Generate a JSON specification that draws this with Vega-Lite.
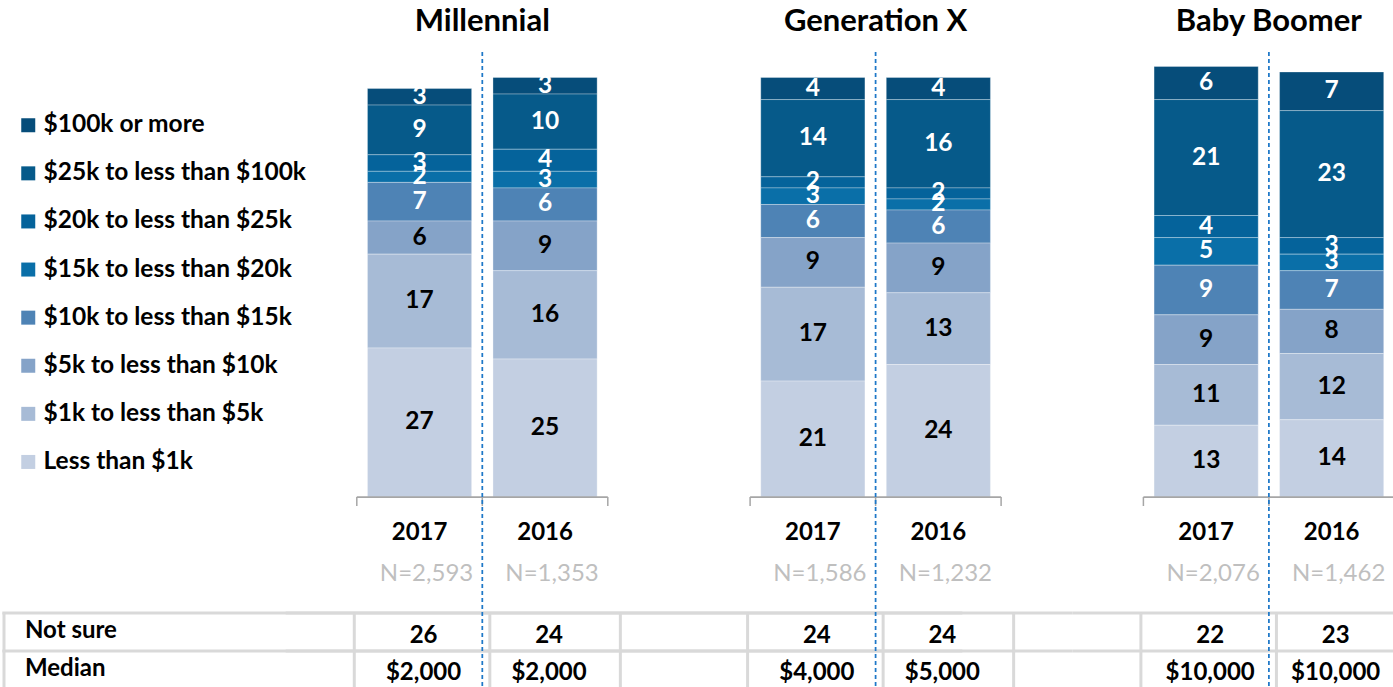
{
  "$schema": "https://vega.github.io/schema/vega-lite/v6.json",
  "width": 1393,
  "height": 687,
  "autosize": {"type": "none"},
  "padding": 0,
  "background": "white",
  "config": {"view": {"stroke": null}, "font": "Lato", "text": {"font": "Lato"}},
  "datasets": {
    "bars": [
      {"gen": "Millennial", "year": "2017", "k": 8, "bracket": "$100k or more", "pct": 3},
      {"gen": "Millennial", "year": "2017", "k": 7, "bracket": "$25k to less than $100k", "pct": 9},
      {"gen": "Millennial", "year": "2017", "k": 6, "bracket": "$20k to less than $25k", "pct": 3},
      {"gen": "Millennial", "year": "2017", "k": 5, "bracket": "$15k to less than $20k", "pct": 2},
      {"gen": "Millennial", "year": "2017", "k": 4, "bracket": "$10k to less than $15k", "pct": 7},
      {"gen": "Millennial", "year": "2017", "k": 3, "bracket": "$5k to less than $10k", "pct": 6},
      {"gen": "Millennial", "year": "2017", "k": 2, "bracket": "$1k to less than $5k", "pct": 17},
      {"gen": "Millennial", "year": "2017", "k": 1, "bracket": "Less than $1k", "pct": 27},
      {"gen": "Millennial", "year": "2016", "k": 8, "bracket": "$100k or more", "pct": 3},
      {"gen": "Millennial", "year": "2016", "k": 7, "bracket": "$25k to less than $100k", "pct": 10},
      {"gen": "Millennial", "year": "2016", "k": 6, "bracket": "$20k to less than $25k", "pct": 4},
      {"gen": "Millennial", "year": "2016", "k": 5, "bracket": "$15k to less than $20k", "pct": 3},
      {"gen": "Millennial", "year": "2016", "k": 4, "bracket": "$10k to less than $15k", "pct": 6},
      {"gen": "Millennial", "year": "2016", "k": 3, "bracket": "$5k to less than $10k", "pct": 9},
      {"gen": "Millennial", "year": "2016", "k": 2, "bracket": "$1k to less than $5k", "pct": 16},
      {"gen": "Millennial", "year": "2016", "k": 1, "bracket": "Less than $1k", "pct": 25},
      {"gen": "Generation X", "year": "2017", "k": 8, "bracket": "$100k or more", "pct": 4},
      {"gen": "Generation X", "year": "2017", "k": 7, "bracket": "$25k to less than $100k", "pct": 14},
      {"gen": "Generation X", "year": "2017", "k": 6, "bracket": "$20k to less than $25k", "pct": 2},
      {"gen": "Generation X", "year": "2017", "k": 5, "bracket": "$15k to less than $20k", "pct": 3},
      {"gen": "Generation X", "year": "2017", "k": 4, "bracket": "$10k to less than $15k", "pct": 6},
      {"gen": "Generation X", "year": "2017", "k": 3, "bracket": "$5k to less than $10k", "pct": 9},
      {"gen": "Generation X", "year": "2017", "k": 2, "bracket": "$1k to less than $5k", "pct": 17},
      {"gen": "Generation X", "year": "2017", "k": 1, "bracket": "Less than $1k", "pct": 21},
      {"gen": "Generation X", "year": "2016", "k": 8, "bracket": "$100k or more", "pct": 4},
      {"gen": "Generation X", "year": "2016", "k": 7, "bracket": "$25k to less than $100k", "pct": 16},
      {"gen": "Generation X", "year": "2016", "k": 6, "bracket": "$20k to less than $25k", "pct": 2},
      {"gen": "Generation X", "year": "2016", "k": 5, "bracket": "$15k to less than $20k", "pct": 2},
      {"gen": "Generation X", "year": "2016", "k": 4, "bracket": "$10k to less than $15k", "pct": 6},
      {"gen": "Generation X", "year": "2016", "k": 3, "bracket": "$5k to less than $10k", "pct": 9},
      {"gen": "Generation X", "year": "2016", "k": 2, "bracket": "$1k to less than $5k", "pct": 13},
      {"gen": "Generation X", "year": "2016", "k": 1, "bracket": "Less than $1k", "pct": 24},
      {"gen": "Baby Boomer", "year": "2017", "k": 8, "bracket": "$100k or more", "pct": 6},
      {"gen": "Baby Boomer", "year": "2017", "k": 7, "bracket": "$25k to less than $100k", "pct": 21},
      {"gen": "Baby Boomer", "year": "2017", "k": 6, "bracket": "$20k to less than $25k", "pct": 4},
      {"gen": "Baby Boomer", "year": "2017", "k": 5, "bracket": "$15k to less than $20k", "pct": 5},
      {"gen": "Baby Boomer", "year": "2017", "k": 4, "bracket": "$10k to less than $15k", "pct": 9},
      {"gen": "Baby Boomer", "year": "2017", "k": 3, "bracket": "$5k to less than $10k", "pct": 9},
      {"gen": "Baby Boomer", "year": "2017", "k": 2, "bracket": "$1k to less than $5k", "pct": 11},
      {"gen": "Baby Boomer", "year": "2017", "k": 1, "bracket": "Less than $1k", "pct": 13},
      {"gen": "Baby Boomer", "year": "2016", "k": 8, "bracket": "$100k or more", "pct": 7},
      {"gen": "Baby Boomer", "year": "2016", "k": 7, "bracket": "$25k to less than $100k", "pct": 23},
      {"gen": "Baby Boomer", "year": "2016", "k": 6, "bracket": "$20k to less than $25k", "pct": 3},
      {"gen": "Baby Boomer", "year": "2016", "k": 5, "bracket": "$15k to less than $20k", "pct": 3},
      {"gen": "Baby Boomer", "year": "2016", "k": 4, "bracket": "$10k to less than $15k", "pct": 7},
      {"gen": "Baby Boomer", "year": "2016", "k": 3, "bracket": "$5k to less than $10k", "pct": 8},
      {"gen": "Baby Boomer", "year": "2016", "k": 2, "bracket": "$1k to less than $5k", "pct": 12},
      {"gen": "Baby Boomer", "year": "2016", "k": 1, "bracket": "Less than $1k", "pct": 14}
    ],
    "meta": [
      {"gen": "Millennial", "year": "2017", "n": "N=2,593", "notsure": "26", "median": "$2,000"},
      {"gen": "Millennial", "year": "2016", "n": "N=1,353", "notsure": "24", "median": "$2,000"},
      {"gen": "Generation X", "year": "2017", "n": "N=1,586", "notsure": "24", "median": "$4,000"},
      {"gen": "Generation X", "year": "2016", "n": "N=1,232", "notsure": "24", "median": "$5,000"},
      {"gen": "Baby Boomer", "year": "2017", "n": "N=2,076", "notsure": "22", "median": "$10,000"},
      {"gen": "Baby Boomer", "year": "2016", "n": "N=1,462", "notsure": "23", "median": "$10,000"}
    ],
    "groups": [
      {"gen": "Millennial"},
      {"gen": "Generation X"},
      {"gen": "Baby Boomer"}
    ],
    "first": [
      {"gen": "Millennial"}
    ]
  },
  "layer": [
    {
      "data": {"name": "bars"},
      "mark": {"type": "bar", "stroke": "#ffffff", "strokeWidth": 1, "strokeOpacity": 0.3},
      "encoding": {
        "x": {
          "field": "gen", "type": "nominal", "axis": null,
          "scale": {"type": "band", "domain": ["Millennial", "Generation X", "Baby Boomer"], "range": [356.8, 1394.4], "paddingInner": 0.3618, "paddingOuter": 0, "round": false}
        },
        "xOffset": {
          "field": "year", "type": "nominal",
          "scale": {"domain": ["2017", "2016"], "paddingInner": 0.17, "paddingOuter": 0.085}
        },
        "y": {
          "field": "pct", "type": "quantitative", "stack": "zero", "axis": null,
          "scale": {"domain": [-34.42, 90.04], "nice": false, "zero": false}
        },
        "color": {
          "field": "bracket", "type": "nominal",
          "scale": {
            "domain": ["$100k or more", "$25k to less than $100k", "$20k to less than $25k", "$15k to less than $20k", "$10k to less than $15k", "$5k to less than $10k", "$1k to less than $5k", "Less than $1k"],
            "range": ["#064d7a", "#065a8a", "#05639b", "#0a6fa8", "#4e83b5", "#85a3c8", "#a7bbd6", "#c3cfe2"]
          },
          "legend": {
            "orient": "none", "legendX": 16, "legendY": 113, "title": null, "padding": 0,
            "symbolType": "square", "symbolSize": 196, "symbolStrokeWidth": 0, "symbolOpacity": 1,
            "labelFontSize": 24.5, "labelFontWeight": "bold", "labelFont": "Lato", "labelColor": "#000000",
            "labelOffset": 3, "labelLimit": 400, "rowPadding": 23.1
          }
        },
        "order": {"field": "k", "type": "quantitative"}
      }
    },
    {
      "data": {"name": "groups"},
      "mark": {"type": "bar", "color": "#d9d9d9", "width": 393.3},
      "encoding": {
        "x": {"field": "gen", "type": "nominal"},
        "y": {"datum": -20.73},
        "y2": {"datum": -21.27}
      }
    },
    {
      "data": {"name": "groups"},
      "mark": {"type": "bar", "color": "#d9d9d9", "width": 393.3},
      "encoding": {
        "x": {"field": "gen", "type": "nominal"},
        "y": {"datum": -27.63},
        "y2": {"datum": -28.17}
      }
    },
    {
      "data": {"name": "first"},
      "mark": {"type": "bar", "color": "#d9d9d9", "width": 960},
      "encoding": {
        "x": {"field": "gen", "type": "nominal"},
        "y": {"datum": -20.73},
        "y2": {"datum": -21.27}
      }
    },
    {
      "data": {"name": "first"},
      "mark": {"type": "bar", "color": "#d9d9d9", "width": 960},
      "encoding": {
        "x": {"field": "gen", "type": "nominal"},
        "y": {"datum": -27.63},
        "y2": {"datum": -28.17}
      }
    },
    {
      "data": {"name": "first"},
      "mark": {"type": "rule", "color": "#d9d9d9", "strokeWidth": 3},
      "encoding": {
        "x": {"field": "gen", "type": "nominal", "bandPosition": -1.4056},
        "y": {"datum": -21.0},
        "y2": {"datum": -34.42}
      }
    },
    {
      "data": {"name": "groups"},
      "mark": {"type": "rule", "color": "#d9d9d9", "strokeWidth": 3},
      "encoding": {
        "x": {"field": "gen", "type": "nominal", "bandPosition": -0.01},
        "y": {"datum": -21.0},
        "y2": {"datum": -34.42}
      }
    },
    {
      "data": {"name": "groups"},
      "mark": {"type": "rule", "color": "#d9d9d9", "strokeWidth": 3},
      "encoding": {
        "x": {"field": "gen", "type": "nominal", "bandPosition": 0.53},
        "y": {"datum": -21.0},
        "y2": {"datum": -34.42}
      }
    },
    {
      "data": {"name": "groups"},
      "mark": {"type": "rule", "color": "#d9d9d9", "strokeWidth": 3},
      "encoding": {
        "x": {"field": "gen", "type": "nominal", "bandPosition": 1.05},
        "y": {"datum": -21.0},
        "y2": {"datum": -34.42}
      }
    },
    {
      "data": {"name": "bars"},
      "mark": {"type": "text", "fontSize": 24.5, "fontWeight": "bold", "baseline": "middle", "align": "center"},
      "encoding": {
        "x": {"field": "gen", "type": "nominal"},
        "xOffset": {"field": "year", "type": "nominal"},
        "y": {"field": "pct", "type": "quantitative", "stack": "zero", "bandPosition": 0.5},
        "detail": {"field": "bracket", "type": "nominal"},
        "order": {"field": "k", "type": "quantitative"},
        "text": {"field": "pct", "type": "quantitative"},
        "color": {"condition": {"test": "datum.k >= 4", "value": "#ffffff"}, "value": "#000000"}
      }
    },
    {
      "data": {"name": "groups"},
      "mark": {"type": "bar", "color": "#a6a6a6"},
      "encoding": {
        "x": {"field": "gen", "type": "nominal"},
        "y": {"datum": 0.12},
        "y2": {"datum": -0.16}
      }
    },
    {
      "data": {"name": "groups"},
      "mark": {"type": "rule", "color": "#a6a6a6", "strokeWidth": 1.5},
      "encoding": {
        "x": {"field": "gen", "type": "nominal", "bandPosition": 0},
        "y": {"datum": 0},
        "y2": {"datum": -1.63}
      }
    },
    {
      "data": {"name": "groups"},
      "mark": {"type": "rule", "color": "#a6a6a6", "strokeWidth": 1.5},
      "encoding": {
        "x": {"field": "gen", "type": "nominal", "bandPosition": 0.5},
        "y": {"datum": 0},
        "y2": {"datum": -1.63}
      }
    },
    {
      "data": {"name": "groups"},
      "mark": {"type": "rule", "color": "#a6a6a6", "strokeWidth": 1.5},
      "encoding": {
        "x": {"field": "gen", "type": "nominal", "bandPosition": 1},
        "y": {"datum": 0},
        "y2": {"datum": -1.63}
      }
    },
    {
      "data": {"name": "groups"},
      "mark": {"type": "rule", "color": "#1e78c8", "strokeWidth": 1.75, "strokeDash": [4, 3]},
      "encoding": {
        "x": {"field": "gen", "type": "nominal", "bandPosition": 0.5},
        "y": {"datum": 80.6},
        "y2": {"datum": -34.42}
      }
    },
    {
      "data": {"name": "groups"},
      "mark": {"type": "text", "fontSize": 31, "fontWeight": "bold", "baseline": "middle", "align": "center", "color": "#000000"},
      "encoding": {
        "x": {"field": "gen", "type": "nominal", "bandPosition": 0.5},
        "y": {"datum": 86.05},
        "text": {"field": "gen", "type": "nominal"}
      }
    },
    {
      "data": {"name": "meta"},
      "mark": {"type": "text", "fontSize": 24, "fontWeight": "bold", "baseline": "middle", "align": "center", "color": "#000000"},
      "encoding": {
        "x": {"field": "gen", "type": "nominal"},
        "xOffset": {"field": "year", "type": "nominal"},
        "y": {"datum": -6.52},
        "text": {"field": "year", "type": "nominal"}
      }
    },
    {
      "data": {"name": "meta"},
      "mark": {"type": "text", "fontSize": 24, "baseline": "middle", "align": "center", "color": "#bfbfbf", "dx": 7},
      "encoding": {
        "x": {"field": "gen", "type": "nominal"},
        "xOffset": {"field": "year", "type": "nominal"},
        "y": {"datum": -13.95},
        "text": {"field": "n", "type": "nominal"}
      }
    },
    {
      "data": {"name": "meta"},
      "mark": {"type": "text", "fontSize": 24, "fontWeight": "bold", "baseline": "middle", "align": "center", "color": "#000000", "dx": 4},
      "encoding": {
        "x": {"field": "gen", "type": "nominal"},
        "xOffset": {"field": "year", "type": "nominal"},
        "y": {"datum": -25.2},
        "text": {"field": "notsure", "type": "nominal"}
      }
    },
    {
      "data": {"name": "meta"},
      "mark": {"type": "text", "fontSize": 24, "fontWeight": "bold", "baseline": "middle", "align": "center", "color": "#000000", "dx": 4},
      "encoding": {
        "x": {"field": "gen", "type": "nominal"},
        "xOffset": {"field": "year", "type": "nominal"},
        "y": {"datum": -31.9},
        "text": {"field": "median", "type": "nominal"}
      }
    },
    {
      "data": {"values": [{"gen": "Millennial", "label": "Not sure"}]},
      "mark": {"type": "text", "fontSize": 24, "fontWeight": "bold", "baseline": "middle", "align": "left", "color": "#000000"},
      "encoding": {
        "x": {"field": "gen", "type": "nominal", "bandPosition": -1.3219},
        "y": {"datum": -24.3},
        "text": {"field": "label", "type": "nominal"}
      }
    },
    {
      "data": {"values": [{"gen": "Millennial", "label": "Median"}]},
      "mark": {"type": "text", "fontSize": 24, "fontWeight": "bold", "baseline": "middle", "align": "left", "color": "#000000"},
      "encoding": {
        "x": {"field": "gen", "type": "nominal", "bandPosition": -1.3219},
        "y": {"datum": -31.2},
        "text": {"field": "label", "type": "nominal"}
      }
    }
  ]
}
